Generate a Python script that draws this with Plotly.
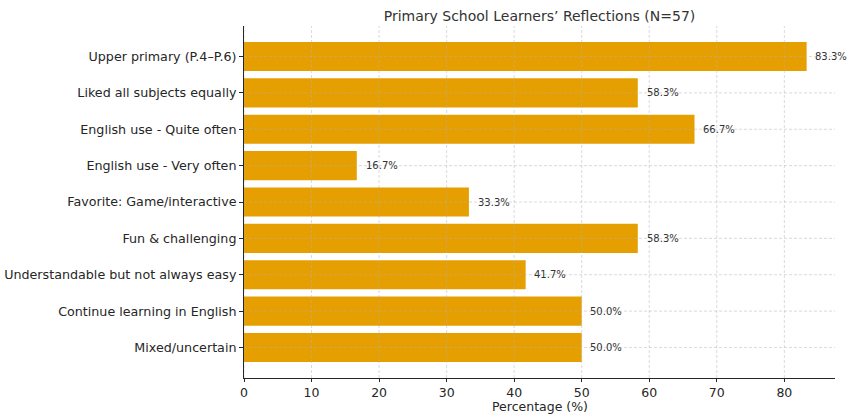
import plotly.graph_objects as go

categories = [
    "Upper primary (P.4–P.6)",
    "Liked all subjects equally",
    "English use - Quite often",
    "English use - Very often",
    "Favorite: Game/interactive",
    "Fun & challenging",
    "Understandable but not always easy",
    "Continue learning in English",
    "Mixed/uncertain",
]
values = [83.3, 58.3, 66.7, 16.7, 33.3, 58.3, 41.7, 50.0, 50.0]
x_ticks = [0, 10, 20, 30, 40, 50, 60, 70, 80]

BAR = "#E69F00"
FONT = "DejaVu Sans"
GRID = "rgba(176,176,176,0.6)"

fig = go.Figure()
fig.add_trace(go.Bar(
    y=categories, x=values, orientation="h", width=0.8,
    marker=dict(color=BAR, line=dict(width=0)),
    hoverinfo="skip",
))

for c, v in zip(categories, values):
    fig.add_annotation(x=v + 1, y=c, text=f"{v:.1f}%", showarrow=False,
                       xanchor="left", yanchor="middle",
                       font=dict(family=FONT, size=10, color="#333333"))

plot_h = 414 - 26 - 36
# x-axis title placed as paper annotation (paper coords span the plot area)
fig.add_annotation(x=0.5, y=-(406 - 378) / plot_h, xref="paper", yref="paper",
                   text="Percentage (%)", showarrow=False,
                   xanchor="center", yanchor="middle",
                   font=dict(family=FONT, size=12.5, color="#262626"))

shapes = []
for t in x_ticks:
    shapes.append(dict(type="line", xref="x", yref="y domain", x0=t, x1=t, y0=0, y1=1,
                       line=dict(color=GRID, width=0.8, dash="3px,2px"), layer="above"))
for c in categories:
    shapes.append(dict(type="line", xref="x domain", yref="y", x0=0, x1=1, y0=c, y1=c,
                       line=dict(color=GRID, width=0.8, dash="3px,2px"), layer="above"))
fig.update_layout(shapes=shapes)

fig.update_layout(
    width=850, height=414,
    margin=dict(l=244, r=15, t=26, b=36),
    paper_bgcolor="white", plot_bgcolor="white",
    font=dict(family=FONT, color="#262626"),
    showlegend=False,
    title=dict(text="Primary School Learners’ Reflections (N=57)",
               x=(244 + 835) / 2 / 850, xanchor="center", y=1 - 16 / 414, yanchor="middle",
               font=dict(family=FONT, size=14, color="#333333")),
    xaxis=dict(range=[0, 87.5], tickvals=x_ticks, showgrid=False, zeroline=False,
               automargin=False,
               showline=True, linecolor="#262626", linewidth=1,
               ticks="outside", ticklen=3, tickcolor="#262626",
               tickfont=dict(family=FONT, size=12.5, color="#262626")),
    yaxis=dict(categoryorder="array", categoryarray=categories,
               range=[8.84, -0.84], showgrid=False, zeroline=False,
               automargin=False,
               showline=True, linecolor="#262626", linewidth=1,
               ticks="outside", ticklen=4, tickcolor="#262626",
               tickfont=dict(family=FONT, size=12.7, color="#262626")),
)

fig.write_html("out.html")
